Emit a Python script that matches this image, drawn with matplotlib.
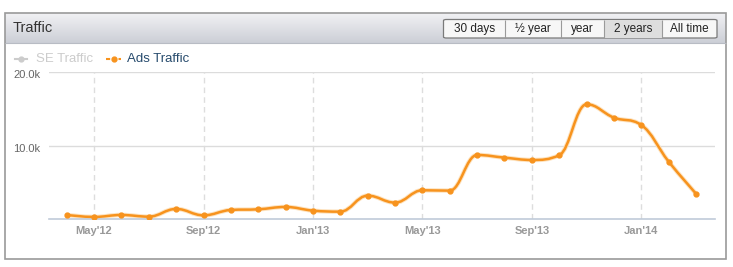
import numpy as np
import matplotlib
matplotlib.use("Agg")
import matplotlib.pyplot as plt
import matplotlib.transforms as mtransforms
from matplotlib.path import Path
from matplotlib.patches import PathPatch, Rectangle, FancyBboxPatch

plt.rcParams['font.family'] = ['Liberation Sans', 'DejaVu Sans']

## data: monthly Ads Traffic, Apr'12 .. Mar'14
months = ["Apr'12", "May'12", "Jun'12", "Jul'12", "Aug'12", "Sep'12", "Oct'12",
          "Nov'12", "Dec'12", "Jan'13", "Feb'13", "Mar'13", "Apr'13", "May'13",
          "Jun'13", "Jul'13", "Aug'13", "Sep'13", "Oct'13", "Nov'13", "Dec'13",
          "Jan'14", "Feb'14", "Mar'14"]
ads_traffic = [590, 320, 590, 360, 1410, 540, 1270, 1360, 1680, 1180, 1040,
               3220, 2270, 3950, 3900, 8750, 8390, 8070, 8710, 15650, 13830,
               12830, 7850, 3490]
tick_labels = ["May'12", "Sep'12", "Jan'13", "May'13", "Sep'13", "Jan'14"]
y_ticks = [10000, 20000]
y_tick_labels = ["10.0k", "20.0k"]
buttons = ["30 days", "\u00bd year", "year", "2 years", "All time"]
selected_button = "2 years"

W, H = 733, 267
ORANGE = '#f7931e'


def fx(x):
  return x / W


def fy(y):
  return 1 - y / H


def spline_path(xs, ys, smoothing=1.5):
  ## highcharts-like spline through the points
  n = len(xs)
  lc = [None] * n
  rc = [None] * n
  for i in range(1, n - 1):
    lx, ly = xs[i - 1], ys[i - 1]
    px, py = xs[i], ys[i]
    nx, ny = xs[i + 1], ys[i + 1]
    d = smoothing + 1
    lcx = (smoothing * px + lx) / d
    lcy = (smoothing * py + ly) / d
    rcx = (smoothing * px + nx) / d
    rcy = (smoothing * py + ny) / d
    corr = (rcy - lcy) * (rcx - px) / (rcx - lcx) + py - rcy
    lcy += corr
    rcy += corr
    if lcy > ly and lcy > py:
      lcy = max(ly, py); rcy = 2 * py - lcy
    elif lcy < ly and lcy < py:
      lcy = min(ly, py); rcy = 2 * py - lcy
    if rcy > ny and rcy > py:
      rcy = max(ny, py); lcy = 2 * py - rcy
    elif rcy < ny and rcy < py:
      rcy = min(ny, py); lcy = 2 * py - rcy
    lc[i] = (lcx, lcy)
    rc[i] = (rcx, rcy)
  verts = [(xs[0], ys[0])]
  codes = [Path.MOVETO]
  for i in range(1, n):
    c1 = rc[i - 1] if rc[i - 1] else (xs[i - 1], ys[i - 1])
    c2 = lc[i] if lc[i] else (xs[i], ys[i])
    verts += [c1, c2, (xs[i], ys[i])]
    codes += [Path.CURVE4] * 3
  return Path(verts, codes)


fig = plt.figure(figsize=(W / 100, H / 100), dpi=100)
fig.patch.set_facecolor('white')

## header band with gradient
hx0, hy0, hx1, hy1 = 5, 13, 726, 43
hax = fig.add_axes([fx(hx0), fy(hy1), fx(hx1 - hx0), (hy1 - hy0) / H])
grad = np.linspace(0, 1, 64).reshape(-1, 1)
top = np.array([0.95, 0.95, 0.96])
bot = np.array([0.80, 0.81, 0.84])
img = top + (bot - top) * grad[:, :, None] * np.ones((1, 1, 3))
hax.imshow(img, aspect='auto', extent=[0, 1, 0, 1], origin='upper')
hax.set_axis_off()

## outer frame
fig.patches.append(Rectangle((fx(4.5), fy(259)), fx(726 - 4.5), (259 - 12.7) / H,
                             transform=fig.transFigure, fill=False,
                             edgecolor='#9a9a9a', linewidth=1.2, zorder=5))
fig.patches.append(Rectangle((fx(4.5), fy(43)), fx(726 - 4.5), 0,
                             transform=fig.transFigure, fill=False,
                             edgecolor='#b8bcc4', linewidth=0.8, zorder=5))
fig.text(fx(13), fy(28.5), "Traffic", fontsize=10.5, color='#333333',
         va='center', ha='left')

## buttons
edges = [443.5, 505, 561, 604, 662, 717]
by0, by1 = 19.5, 38
fig.patches.append(FancyBboxPatch((fx(edges[0]), fy(by1)), fx(edges[-1] - edges[0]),
                                  (by1 - by0) / H, boxstyle="round,pad=0,rounding_size=0.004",
                                  transform=fig.transFigure, facecolor='#f7f7f7',
                                  edgecolor='#7a7a7a', linewidth=0.9, zorder=6))
for i, b in enumerate(buttons):
  x0, x1 = edges[i], edges[i + 1]
  if b == selected_button:
    fig.patches.append(Rectangle((fx(x0), fy(by1)), fx(x1 - x0), (by1 - by0) / H,
                                 transform=fig.transFigure, facecolor='#dedede',
                                 edgecolor='none', zorder=6.5))
  if i > 0:
    fig.patches.append(Rectangle((fx(x0), fy(by1)), 0, (by1 - by0) / H,
                                 transform=fig.transFigure, fill=False,
                                 edgecolor='#9a9a9a', linewidth=0.8, zorder=7))
  fig.text(fx((x0 + x1) / 2), fy(29), b, fontsize=8.5, color='#222222',
           ha='center', va='center', zorder=8)

## legend
fig.lines.append(plt.Line2D([fx(15), fx(27)], [fy(59), fy(59)], transform=fig.transFigure,
                            color='#cccccc', linewidth=1.5, zorder=8))
fig.lines.append(plt.Line2D([fx(21)], [fy(59)], transform=fig.transFigure,
                            color='#cccccc', marker='o', markersize=3.5, zorder=8))
fig.text(fx(36), fy(59), "SE Traffic", fontsize=9.5, color='#cccccc', va='center')
fig.lines.append(plt.Line2D([fx(106), fx(121)], [fy(59), fy(59)], transform=fig.transFigure,
                            color=ORANGE, linewidth=1.5, linestyle=(0, (2, 1)), zorder=8))
fig.lines.append(plt.Line2D([fx(113.5)], [fy(59)], transform=fig.transFigure,
                            color=ORANGE, marker='o', markersize=3.5, zorder=8))
fig.text(fx(127), fy(59), "Ads Traffic", fontsize=9.5, color='#274b6d', va='center')

## plot area
ax_l, ax_r, ax_t, ax_b = 49, 715, 72.3, 219.3
ax = fig.add_axes([fx(ax_l), fy(ax_b), fx(ax_r - ax_l), (ax_b - ax_t) / H])
xs = np.arange(len(months))
step = (696 - 66.7) / 23
ax.set_xlim((ax_l - 66.7) / step, (ax_r - 66.7) / step)
ax.set_ylim(0, 20000)
ax.set_facecolor('none')
for s in ['top', 'right', 'left']:
  ax.spines[s].set_visible(False)
ax.spines['bottom'].set_color('#c0cbd9')
ax.spines['bottom'].set_linewidth(1.2)

tick_pos = [months.index(t) for t in tick_labels]
ax.set_xticks(tick_pos)
ax.set_xticklabels(tick_labels, fontsize=8, fontweight='bold', color='#999999')
ax.tick_params(axis='x', length=0, pad=4.5)
for t in tick_pos:
  ax.axvline(t, color='#dddddd', linewidth=1, linestyle=(0, (4, 3)), zorder=1)
for v in y_ticks:
  ax.axhline(v, color='#dcdcdc', linewidth=1, zorder=1)
ax.set_yticks(y_ticks)
ax.set_yticklabels(y_tick_labels, fontsize=8, color='#666666')
ax.tick_params(axis='y', length=0, pad=6)
## labels sit a little below their grid line
shift = mtransforms.ScaledTranslation(0, -3 / 100, fig.dpi_scale_trans)
for lab in ax.get_yticklabels():
  lab.set_va('center')
  lab.set_transform(lab.get_transform() + shift)

path = spline_path(list(xs), ads_traffic)
ax.add_patch(PathPatch(path, fill=False, edgecolor='#fde3c0', linewidth=3.2, zorder=2))
ax.add_patch(PathPatch(path, fill=False, edgecolor=ORANGE, linewidth=1.8, zorder=3))
ax.plot(xs, ads_traffic, linestyle='none', marker='o', markersize=3.5,
        color=ORANGE, zorder=4)

fig.savefig("out.png", dpi=100)
